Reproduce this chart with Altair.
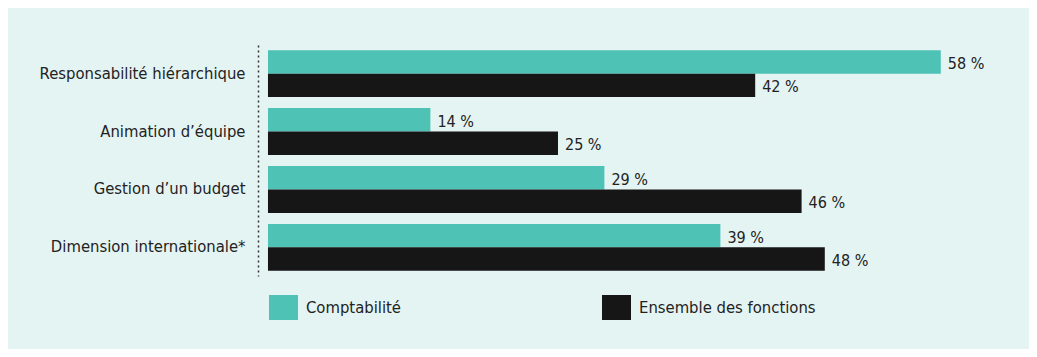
import altair as alt
import pandas as pd

categories = ["Responsabilité hiérarchique", "Animation d’équipe", "Gestion d’un budget", "Dimension internationale*"]
series = ["Comptabilité", "Ensemble des fonctions"]
comptabilite = [58, 14, 29, 39]
ensemble = [42, 25, 46, 48]
colors = ["#4FC2B6", "#161616"]

rows = []
for c, a, b in zip(categories, comptabilite, ensemble):
    rows.append({"cat": c, "serie": series[0], "val": a, "lab": f"{a} %"})
    rows.append({"cat": c, "serie": series[1], "val": b, "lab": f"{b} %"})
df = pd.DataFrame(rows)

FONT = "DejaVu Sans Condensed"

y = alt.Y("cat:N", sort=categories,
          scale=alt.Scale(paddingInner=0.19, paddingOuter=0.09),
          axis=alt.Axis(title=None, ticks=False, domain=True, domainColor="#333333",
                        domainDash=[2, 3], domainWidth=1.5, labelPadding=13,
                        labelFontSize=16.5, labelColor="#222222", labelFont=FONT,
                        labelLimit=400))
yoff = alt.YOffset("serie:N", sort=series)
x = alt.X("val:Q", scale=alt.Scale(domain=[-0.86, 60], nice=False, zero=False), axis=None)

bars = alt.Chart(df).mark_bar().encode(
    y=y, yOffset=yoff, x=x,
    color=alt.Color("serie:N", sort=series,
                    scale=alt.Scale(domain=series, range=colors),
                    legend=alt.Legend(title=None, orient="none", legendX=13, legendY=250,
                                      direction="horizontal", columnPadding=200,
                                      labelOffset=10, symbolType="M-1.16,-1H1.16V1H-1.16Z",
                                      symbolSize=625, symbolStrokeWidth=0, symbolOpacity=1,
                                      labelFontSize=16.5, labelColor="#222222", labelFont=FONT,
                                      labelLimit=400)),
)

labels = alt.Chart(df).mark_text(align="left", baseline="middle", dx=7, dy=2,
                                 fontSize=16, color="#222222", font=FONT).encode(
    y=y, yOffset=yoff, x=x, text="lab:N")

chart = alt.layer(bars, labels).properties(
    width=706, height=231,
    autosize=alt.AutoSizeParams(type="none"),
    padding={"left": 250, "top": 37, "right": 65, "bottom": 73},
    background="#E4F4F3",
).configure(font=FONT).configure_view(stroke=None)

chart.save("out.html", embed_options={"renderer": "svg", "actions": False})
